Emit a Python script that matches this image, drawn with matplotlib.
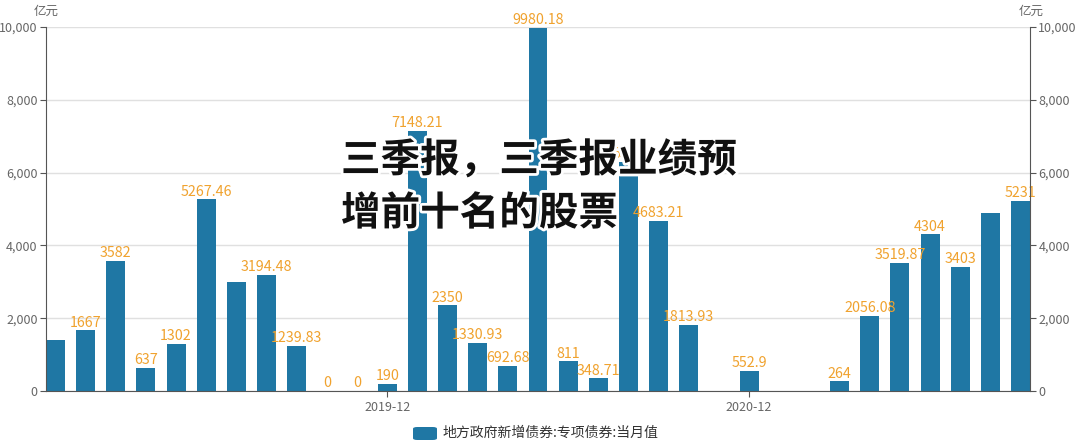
import numpy as np
import matplotlib
matplotlib.use("Agg")
import matplotlib.pyplot as plt
import matplotlib.patheffects as pe
from matplotlib.patches import FancyBboxPatch
from matplotlib.ticker import FuncFormatter, FixedLocator

plt.rcParams['font.family'] = ['Noto Sans CJK SC', 'DejaVu Sans']

# ---- data ----
months = ["2019-01", "2019-02", "2019-03", "2019-04", "2019-05", "2019-06", "2019-07", "2019-08",
          "2019-09", "2019-10", "2019-11", "2019-12", "2020-01", "2020-02", "2020-03", "2020-04",
          "2020-05", "2020-06", "2020-07", "2020-08", "2020-09", "2020-10", "2020-11", "2020-12",
          "2021-01", "2021-02", "2021-03", "2021-04", "2021-05", "2021-06", "2021-07", "2021-08",
          "2021-09"]
values = [1400, 1667, 3582, 637, 1302, 5267.46, 3000, 3194.48,
          1239.83, 0, 0, 190, 7148.21, 2350, 1330.93, 692.68,
          9980.18, 811, 348.71, 6301, 4683.21, 1813.93, np.nan, 552.9,
          np.nan, np.nan, 264, 2056.08, 3519.87, 4304, 3403, 4890,
          5231]
hidden_labels = ["2019-01", "2019-07", "2021-08"]
x_tick_labels = ["2019-12", "2020-12"]
y_ticks = [0, 2000, 4000, 6000, 8000, 10000]
series_name = "地方政府新增债券:专项债券:当月值"
unit = "亿元"
overlay_title = "三季报，三季报业绩预\n增前十名的股票"

# ---- style ----
bar_color = "#1f77a4"
label_color = "#f0a22e"
axis_color = "#555555"
tick_text = "#666666"
grid_color = "#e0e0e0"

W, H = 1080, 446
fig = plt.figure(figsize=(W / 100, H / 100), dpi=100)
ax = fig.add_axes([46 / W, 1 - 391 / H, (1030 - 46) / W, (391 - 27) / H])

x = np.arange(len(months))
bw = 0.63
vals = np.array(values, dtype=float)
ax.bar(x, np.nan_to_num(vals), width=bw, color=bar_color, zorder=2)

for i, (m, v) in enumerate(zip(months, vals)):
    if np.isnan(v) or m in hidden_labels:
        continue
    s = f"{v:.2f}".rstrip("0").rstrip(".")
    ax.annotate(s, (i, v), xytext=(0, 0.5), textcoords="offset points",
                ha="center", va="bottom", color=label_color, fontsize=10.3, zorder=3)

ax.set_xlim(-bw / 2, len(months) - 1 + bw / 2)
ax.set_ylim(0, 10000)
ax.yaxis.set_major_locator(FixedLocator(y_ticks))
fmt = FuncFormatter(lambda v, p: f"{int(v):,}")
ax.yaxis.set_major_formatter(fmt)
ax.grid(axis="y", color=grid_color, linewidth=1, zorder=0)
ax.set_axisbelow(True)

xt = [months.index(t) for t in x_tick_labels]
ax.set_xticks(xt)
ax.set_xticklabels(x_tick_labels)
ax.tick_params(axis="x", colors=axis_color, labelcolor=tick_text, labelsize=9, length=4, pad=3)
ax.tick_params(axis="y", colors=axis_color, labelcolor=tick_text, labelsize=9, length=4, pad=2)

for s in ["top", "right"]:
    ax.spines[s].set_visible(False)
for s in ["left", "bottom"]:
    ax.spines[s].set_color(axis_color)

ax2 = ax.twinx()
ax2.set_ylim(0, 10000)
ax2.yaxis.set_major_locator(FixedLocator(y_ticks))
ax2.yaxis.set_major_formatter(fmt)
ax2.tick_params(axis="y", colors=axis_color, labelcolor=tick_text, labelsize=9, length=4, pad=2)
for s in ["top", "left", "bottom"]:
    ax2.spines[s].set_visible(False)
ax2.spines["right"].set_color(axis_color)

fig.text(46 / W, 1 - 11 / H, unit, ha="center", va="center", fontsize=9, color=tick_text)
fig.text(1031 / W, 1 - 11 / H, unit, ha="center", va="center", fontsize=9, color=tick_text)

# legend
lx, ly = 413 / W, 1 - 440 / H
patch = FancyBboxPatch((lx, ly), 24 / W, 13 / H, boxstyle="round,pad=0,rounding_size=0.004",
                       transform=fig.transFigure, facecolor=bar_color, edgecolor="none")
fig.patches.append(patch)
fig.text(443 / W, 1 - 433 / H, series_name, ha="left", va="center", fontsize=10, color="#333333")

# overlay title
fig.text(341 / W, 1 - 187 / H, overlay_title, ha="left", va="center", fontsize=28.5,
         fontweight="black", color="#111111", linespacing=1.38,
         path_effects=[pe.withStroke(linewidth=4, foreground="white")], zorder=10)

fig.savefig("out.png", dpi=100)
